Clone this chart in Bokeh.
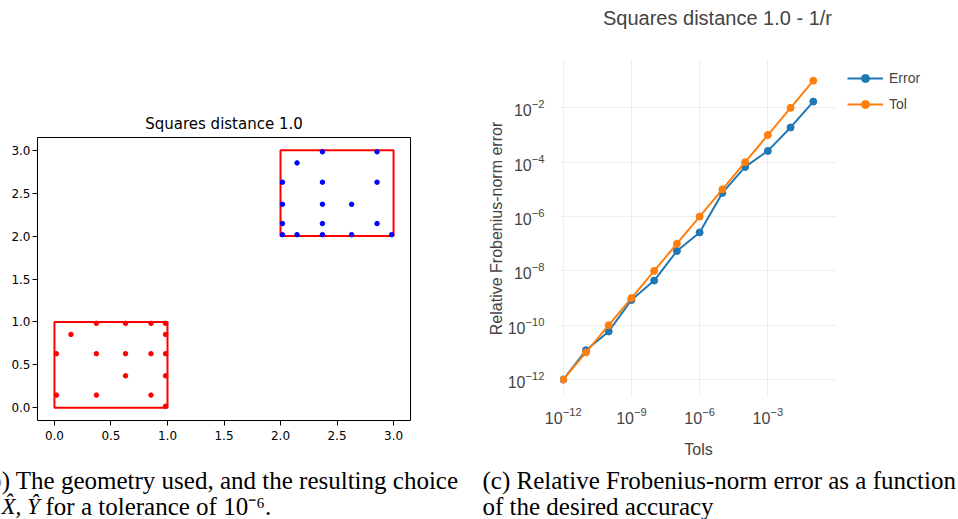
from bokeh.plotting import figure
from bokeh.models import (Range1d, FixedTicker, LogTickFormatter, PrintfTickFormatter,
                          Legend, LegendItem)
from bokeh.core.properties import value
from bokeh.embed import file_html
from bokeh.resources import INLINE

# ---------------- data ----------------
# left panel: geometry
sq_left = [0.0, 2.0]
sq_right = [1.0, 3.0]
sq_bottom = [0.0, 2.0]
sq_top = [1.0, 3.0]

red_x = [0.146, 0.371, 0.629, 0.854, 0.983, 0.983, 0.017, 0.371, 0.629, 0.854, 0.983,
         0.629, 0.983, 0.017, 0.371, 0.854, 0.983]
red_y = [0.854, 0.983, 0.983, 0.983, 0.983, 0.854, 0.629, 0.629, 0.629, 0.629, 0.629,
         0.371, 0.371, 0.146, 0.146, 0.146, 0.017]
blue_x = [2.371, 2.854, 2.146, 2.017, 2.371, 2.854, 2.017, 2.371, 2.629, 2.017, 2.371,
          2.854, 2.017, 2.146, 2.371, 2.629, 2.983]
blue_y = [2.983, 2.983, 2.854, 2.629, 2.629, 2.629, 2.371, 2.371, 2.371, 2.146, 2.146,
          2.146, 2.017, 2.017, 2.017, 2.017, 2.017]
left_ticks = [0.0, 0.5, 1.0, 1.5, 2.0, 2.5, 3.0]

# right panel: error vs tolerance
tols = [1e-12, 1e-11, 1e-10, 1e-9, 1e-8, 1e-7, 1e-6, 1e-5, 1e-4, 1e-3, 1e-2, 1e-1]
error = [1e-12, 1.2e-11, 5.9e-11, 8.5e-10, 4.4e-9, 5.4e-8, 2.6e-7, 7.4e-6, 6.7e-5,
         2.6e-4, 1.9e-3, 1.7e-2]
tol_vals = [1e-12, 1e-11, 1e-10, 1e-9, 1e-8, 1e-7, 1e-6, 1e-5, 1e-4, 1e-3, 1e-2, 1e-1]
x_ticks = [1e-12, 1e-9, 1e-6, 1e-3]
y_ticks = [1e-12, 1e-10, 1e-8, 1e-6, 1e-4, 1e-2]
series_names = ["Error", "Tol"]
series_colors = ["#1f77b4", "#ff7f0e"]

ROW_H = 463


def place(left, top):
    return {"position": "absolute", "left": f"{left}px", "top": f"{top}px"}


# ---------------- left figure ----------------
pl = figure(width=470, height=ROW_H, x_range=Range1d(-0.15, 3.15), y_range=Range1d(-0.15, 3.15),
            output_backend="svg", toolbar_location=None, styles=place(0, 0),
            min_border_left=37, min_border_right=60, min_border_top=137, min_border_bottom=43)
pl.grid.visible = False
pl.outline_line_color = "black"
pl.outline_line_width = 1
pl.outline_line_alpha = 1
pl.title.text = "Squares distance 1.0"
pl.title.align = "center"
pl.title.text_font = "DejaVu Sans"
pl.title.text_font_size = "15px"
pl.title.text_font_style = "normal"
pl.title.text_color = "black"
for ax in (pl.xaxis[0], pl.yaxis[0]):
    ax.ticker = FixedTicker(ticks=left_ticks)
    ax.formatter = PrintfTickFormatter(format="%.1f")
    ax.major_tick_out = 5
    ax.major_tick_in = 0
    ax.minor_tick_line_color = None
    ax.axis_line_color = None
    ax.major_tick_line_color = "black"
    ax.major_label_text_font = "DejaVu Sans"
    ax.major_label_text_font_size = "12px"
    ax.major_label_text_color = "black"
pl.yaxis[0].major_label_standoff = 2
pl.xaxis[0].major_label_standoff = 5

pl.quad(left=sq_left, right=sq_right, bottom=sq_bottom, top=sq_top,
        fill_alpha=0, line_color="red", line_width=2)
pl.scatter(red_x, red_y, size=4.5, color="red")
pl.scatter(blue_x, blue_y, size=4.5, color="blue")

# ---------------- right figure ----------------
pr = figure(width=488, height=ROW_H, x_axis_type="log", y_axis_type="log",
            x_range=Range1d(10 ** -12.12, 10 ** 0.02), y_range=Range1d(10 ** -12.66, 10 ** -0.22),
            output_backend="svg", toolbar_location=None, styles=place(470, 0),
            min_border_left=90, min_border_right=122, min_border_top=59,
            min_border_bottom=ROW_H - 397)
pr.outline_line_color = None
pr.xaxis[0].ticker = FixedTicker(ticks=x_ticks)
pr.yaxis[0].ticker = FixedTicker(ticks=y_ticks)
for ax in (pr.xaxis[0], pr.yaxis[0]):
    ax.formatter = LogTickFormatter()
    ax.axis_line_color = None
    ax.major_tick_line_color = None
    ax.minor_tick_line_color = None
    ax.major_label_text_font = "Liberation Sans"
    ax.major_label_text_font_size = "16px"
    ax.major_label_text_color = "#444444"
    ax.axis_label_text_font = "Liberation Sans"
    ax.axis_label_text_font_size = "16px"
    ax.axis_label_text_font_style = "normal"
    ax.axis_label_text_color = "#444444"
pr.xaxis[0].major_label_standoff = 3
pr.yaxis[0].major_label_standoff = 10
pr.xaxis[0].axis_label = "Tols"
pr.yaxis[0].axis_label = "Relative Frobenius-norm error"
pr.xaxis[0].axis_label_standoff = 14
pr.yaxis[0].axis_label_standoff = 0
pr.grid.grid_line_color = "#eeeeee"
pr.grid.grid_line_width = 1

pr.line(tols, error, color=series_colors[0], line_width=2)
pr.scatter(tols, error, size=7, color=series_colors[0])
pr.line(tols, tol_vals, color=series_colors[1], line_width=2)
pr.scatter(tols, tol_vals, size=7, color=series_colors[1])

# ---------------- text overlay: right title, legend and captions ----------------
po = figure(width=958, height=519, x_range=Range1d(0, 958), y_range=Range1d(519, 0),
            output_backend="svg", toolbar_location=None, styles=place(0, 0),
            min_border_left=0, min_border_right=0, min_border_top=0, min_border_bottom=0,
            background_fill_color=None, border_fill_color=None)
po.axis.visible = False
po.grid.visible = False
po.outline_line_color = None
po.text(x=[717], y=[17], text=["Squares distance 1.0 - 1/r"],
        text_font=value("Liberation Sans"), text_font_size="20px", text_color="#444444",
        text_align="center", text_baseline="middle")

# legend swatches (renderers kept outside the visible area; only their legend glyphs show)
items = []
for name, col in zip(series_names, series_colors):
    r1 = po.line([-60, -40], [-60, -60], color=col, line_width=2)
    r2 = po.scatter([-50], [-60], size=7, color=col)
    items.append(LegendItem(label=name, renderers=[r1, r2]))
legend = Legend(items=items, location=(847, 405), padding=0, margin=0, spacing=6,
                glyph_width=36, glyph_height=20, label_height=20, label_standoff=6,
                border_line_color=None, background_fill_alpha=0,
                label_text_font="Liberation Sans", label_text_font_size="14px",
                label_text_color="#444444")
po.add_layout(legend, "center")

serif = value("Liberation Serif")
FS = "25px"
L1, L2 = 480.0, 506.0
po.text(x=[458], y=[L1], text=["(b) The geometry used, and the resulting choice"],
        text_font=serif, text_font_size=FS, text_align="right", text_baseline="alphabetic",
        text_color="black")
po.text(x=[-4], y=[L2], text=["of"],
        text_font=serif, text_font_size=FS, text_align="right", text_baseline="alphabetic",
        text_color="black")
po.text(x=[1], y=[L2], text=["X\u0302, Y\u0302"],
        text_font=serif, text_font_size="23px", text_font_style="italic", text_align="left",
        text_baseline="alphabetic", text_color="black")
po.text(x=[45], y=[L2], text=["for a tolerance of 10\u207b\u2076."],
        text_font=serif, text_font_size=FS, text_align="left", text_baseline="alphabetic",
        text_color="black")
po.text(x=[482, 482], y=[L1, L2],
        text=["(c) Relative Frobenius-norm error as a function", "of the desired accuracy"],
        text_font=serif, text_font_size=FS, text_align="left", text_baseline="alphabetic",
        text_color="black")

open("out.html", "w").write(file_html([pl, pr, po], INLINE))
